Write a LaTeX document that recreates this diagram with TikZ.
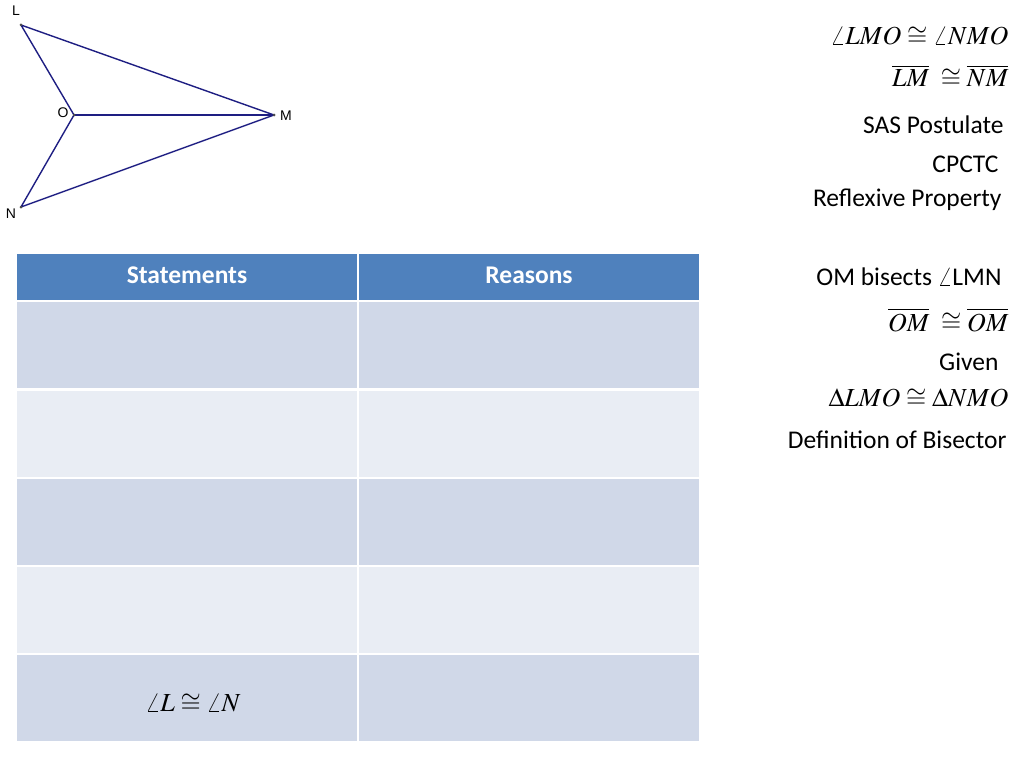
\documentclass[tikz,border=0pt]{standalone}
\usepackage{mathptmx}
\usepackage[no-math]{fontspec}
\setmainfont{Carlito}
\newfontfamily\labelfont{Liberation Sans}
\usepackage{xcolor}
\definecolor{headblue}{HTML}{4F81BD}
\definecolor{rowdark}{HTML}{D0D8E8}
\definecolor{rowlight}{HTML}{E9EDF4}
\definecolor{figblue}{HTML}{1E1E82}

\tikzset{
  head/.style={text=white, font=\fontsize{25.5}{30}\selectfont\bfseries},
  reason/.style={anchor=east, font=\fontsize{25.5}{30}\selectfont},
  mathtext/.style={anchor=east, font=\fontsize{26}{31}\selectfont},
  ptlabel/.style={font=\labelfont\fontsize{14}{16}\selectfont, inner sep=0pt},
}

\begin{document}
\begin{tikzpicture}[x=1pt, y=-1pt]

    \useasboundingbox (0, 0) rectangle (1024, 768);

    \fill[headblue] (17, 254) rectangle (357, 300);
    \fill[headblue] (359, 254) rectangle (699, 300);

    \foreach \y/\c in {302/rowdark, 391/rowlight, 479/rowdark, 567/rowlight, 655/rowdark} {
        \fill[\c] (17, \y) rectangle +(340, 86);
        \fill[\c] (359, \y) rectangle +(340, 86);
    }

    \node[head] (stat) at (187, 275) {Statements};
    \node[head] (reas) at (529, 275) {Reasons};
    \node[font=\fontsize{26}{31}\selectfont] (last) at (193, 703) {$\angle L \cong \angle N$};

    \coordinate (L) at (21, 25);
    \coordinate (O) at (74, 115);
    \coordinate (M) at (274, 115);
    \coordinate (N) at (21, 207);

    \draw[figblue, line width=1.4pt, line join=round] (L) -- (M) -- (N) -- (O) -- cycle;
    \draw[figblue, line width=1.4pt] (O) -- (M);
    \foreach \p in {L, O, M, N}
        \fill[black!70] (\p) circle (1.5);

    \node[ptlabel] (labL) at (16, 11) {L};
    \node[ptlabel] (labO) at (63, 113) {O};
    \node[ptlabel] (labM) at (286, 116) {M};
    \node[ptlabel] (labN) at (11, 214) {N};

    \node[mathtext] (r1) at (1012, 36) {$\angle LMO \cong \angle NMO$};
    \node[mathtext] (r2) at (1012, 76) {$\overline{LM}\;\cong\overline{NM}$};
    \node[reason] (r3) at (1007, 125) {SAS Postulate};
    \node[reason] (r4) at (1002, 164) {CPCTC};
    \node[reason] (r5) at (1005, 200) {Reflexive Property};
    \node[reason] (r6) at (1005, 277) {OM bisects $\angle$LMN};
    \node[mathtext] (r7) at (1012, 320) {$\overline{OM}\;\cong\overline{OM}$};
    \node[reason] (r8) at (1002, 362) {Given};
    \node[mathtext] (r9) at (1012, 398) {$\Delta LMO \cong \Delta NMO$};
    \node[reason] (r10) at (1010, 440) {Definition of Bisector};

\end{tikzpicture}
\end{document}
